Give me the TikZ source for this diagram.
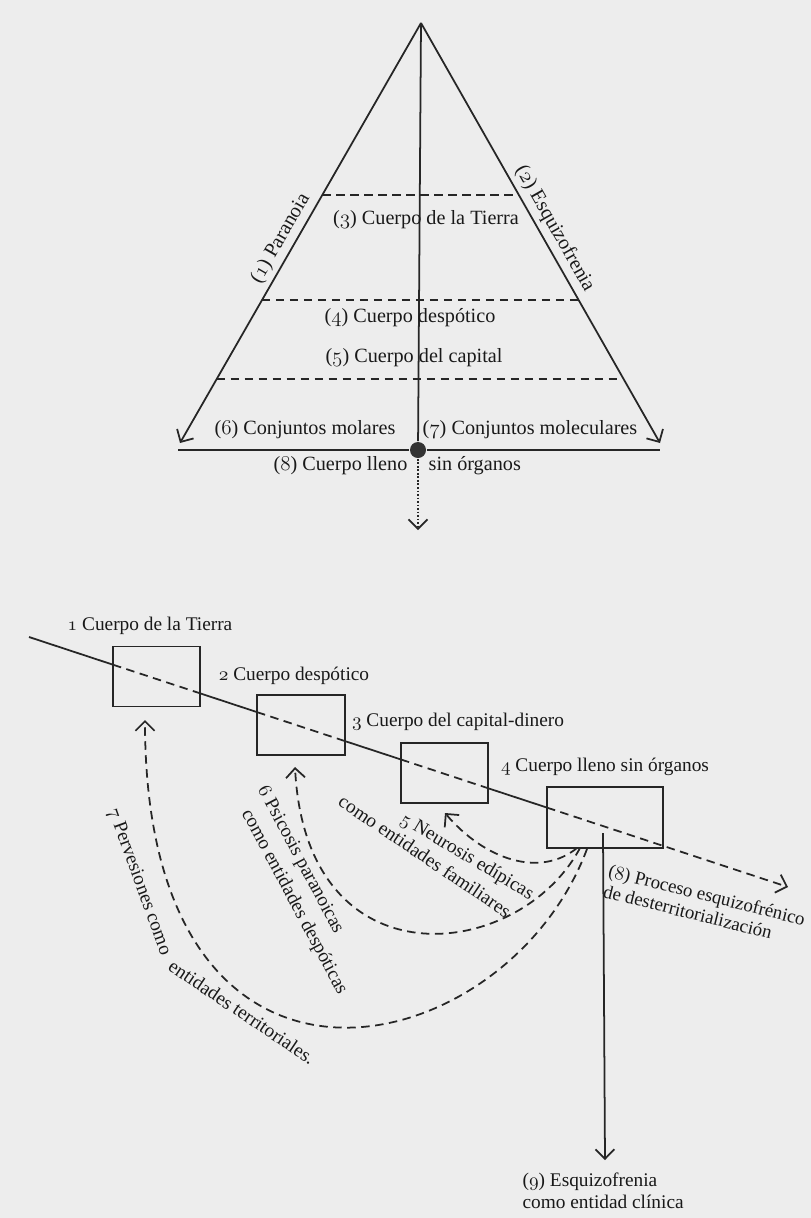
\documentclass[tikz,border=0pt]{standalone}
\usepackage{fontspec}
\setmainfont{Liberation Serif}
\usepackage{tikz}
\usetikzlibrary{arrows.meta,calc}
\newcommand\osn[1]{{\usefont{OML}{cmm}{m}{it}#1}}

\begin{document}
\begin{tikzpicture}[x=0.2mm,y=-0.2mm,
        line width=1pt,
        every node/.style={font=\fontsize{11}{12.5}\selectfont, text=black!90, inner sep=1pt},
        grande/.style={font=\fontsize{11.5}{13}\selectfont},
        tipv/.style={-{Straight Barb[length=1.9mm,width=3.8mm]}},
        corte/.style={dash pattern=on 1.7mm off 1.1mm},
        punteo/.style={dash pattern=on 1pt off 1pt},
        caja/.style={draw, minimum height=12mm, inner sep=0pt}]
    \fill[black!7] (0,0) rectangle (811,1218);
    \useasboundingbox (0,0) rectangle (811,1218);
    \begin{scope}[draw=black!85]
        \coordinate (apex) at (421,23);
        \coordinate (bl) at (180,443);
        \coordinate (br) at (660,443);
        \coordinate (izq) at (178,450);
        \coordinate (der) at (660,450);
        \coordinate (abajo) at (418,530);
        \node[circle, fill=black!80, minimum size=3.2mm, inner sep=0pt] (centro) at (418,450) {};
        \draw[tipv] (apex) -- (bl);
        \draw[tipv] (apex) -- (br);
        \path (bl) -- (apex) node[grande, pos=0.47, sloped, above, inner sep=2.5pt] (paranoia) {(\osn{1}) Paranoia};
        \path (apex) -- (br) node[grande, pos=0.507, sloped, above, inner sep=2.5pt] (esquizo) {(\osn{2}) Esquizofrenia};
        \draw (apex) -- (centro);
        \draw (izq) -- (centro) -- (der);
        \draw[punteo, tipv] (centro) -- (abajo);
        \draw[corte] ($(apex)!0.41!(bl)$) -- ($(apex)!0.41!(br)$);
        \draw[corte] ($(apex)!0.66!(bl)$) -- ($(apex)!0.66!(br)$);
        \draw[corte] ($(apex)!0.848!(bl)$) -- ($(apex)!0.848!(br)$);
        \node[grande] (tierra) at (426,220) {(\osn{3}) Cuerpo de la Tierra};
        \node[grande] (despot) at (410,318) {(\osn{4}) Cuerpo despótico};
        \node[grande] (capital) at (414,358) {(\osn{5}) Cuerpo del capital};
        \node[grande] (molar) at (305,430) {(\osn{6}) Conjuntos molares};
        \node[grande] (molec) at (530,430) {(\osn{7}) Conjuntos moleculares};
        \node[grande, anchor=east] (lleno) at (410,466) {(\osn{8}) Cuerpo lleno};
        \node[grande, anchor=west] (organos) at (426,466) {sin órganos};

        \node[caja, minimum width=17.4mm] (b1) at (156.5,676.5) {};
        \node[caja, minimum width=17.6mm] (b2) at (301,725) {};
        \node[caja, minimum width=17.4mm] (b3) at (444.5,773) {};
        \node[caja, minimum width=23.2mm, minimum height=12.2mm] (b4) at (605,817.5) {};
        \node (t1) at (150,626) {\osn{1} Cuerpo de la Tierra};
        \node (t2) at (294,676) {\osn{2} Cuerpo despótico};
        \node (t3) at (458,722) {\osn{3} Cuerpo del capital-dinero};
        \node (t4) at (605,767) {\osn{4} Cuerpo lleno sin órganos};
        \coordinate (l0) at (29,637);
        \coordinate (l1) at (113,664.7);
        \coordinate (l2) at (200,693.3);
        \coordinate (l3) at (257,712.1);
        \coordinate (l4) at (345,741.1);
        \coordinate (l5) at (401,759.5);
        \coordinate (l6) at (488,788.2);
        \coordinate (l7) at (547,807.6);
        \coordinate (l8) at (788,887);
        \draw (l0) -- (l1) (l2) -- (l3) (l4) -- (l5) (l6) -- (l7);
        \draw[corte] (l1) -- (l2) (l3) -- (l4) (l5) -- (l6);
        \draw[corte, tipv] (l7) -- (l8);
        \node[align=left, rotate=-14, anchor=west, font=\fontsize{10.7}{12}\selectfont] (proceso) at (604,880) {(\osn{8}) Proceso esquizofrénico\\de desterritorialización};

        \coordinate (v0) at (603,833);
        \coordinate (v1) at (605,1160);
        \draw[tipv] (v0) -- (v1);
        \node[align=left, anchor=west] (clinica) at (520,1191) {(\osn{9}) Esquizofrenia\\como entidad clínica};

        \coordinate (c5) at (577,848);
        \coordinate (c6) at (580,848);
        \coordinate (c7) at (587,849);
        \coordinate (e5) at (445,813);
        \coordinate (e6) at (295,767);
        \coordinate (e7) at (145,720);
        \draw[corte, tipv] (c5) .. controls (540,878) and (485,860) .. (e5);
        \draw[corte, tipv] (c6) .. controls (519,962) and (306,987) .. (e6);
        \draw[corte, tipv] (c7) .. controls (506,1066) and (145,1150) .. (e7);
        \node[rotate=-31] (neuro) at (467,857) {\osn{5} Neurosis edípicas};
        \node[rotate=-34] (famil) at (425,856) {como entidades familiares};
        \node[rotate=-62] (psico) at (300,860) {\osn{6} Psicosis paranoicas};
        \node[rotate=-62] (despo) at (294,902) {como entidades despóticas};
        \node[rotate=-70] (perv) at (139,882) {\osn{7} Pervesiones como};
        \node[rotate=-34] (terri) at (242,1012) {entidades territoriales.};
    \end{scope}
\end{tikzpicture}
\end{document}
